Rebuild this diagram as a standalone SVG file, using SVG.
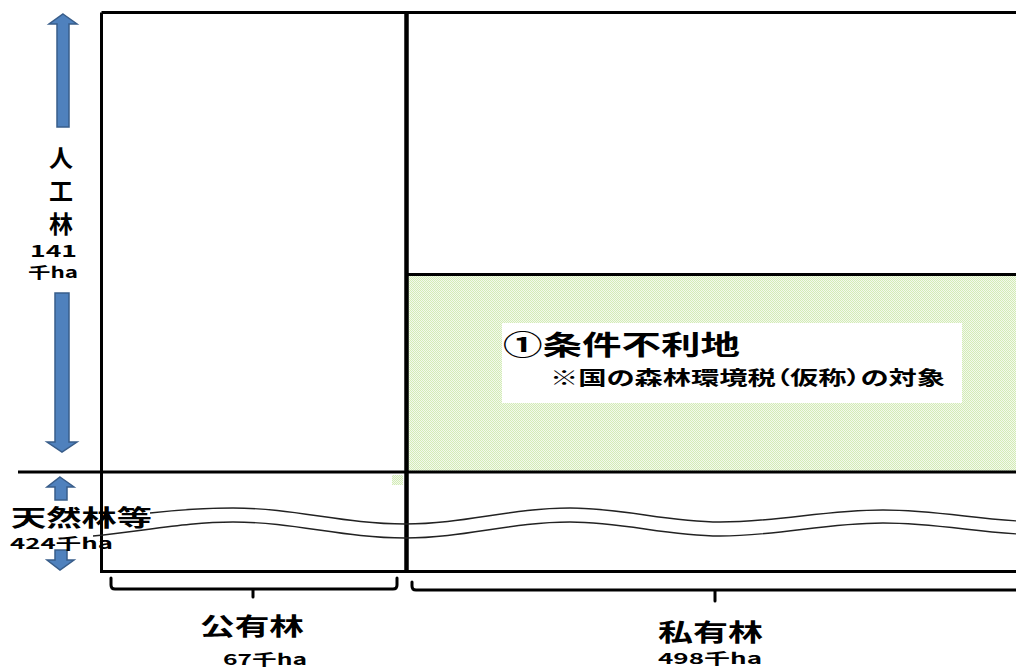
<svg xmlns="http://www.w3.org/2000/svg" width="1016" height="667" viewBox="0 0 1016 667">
<style>
.ln{stroke:#000;stroke-width:3;fill:none}
.thick{stroke:#000;stroke-width:4.5;fill:none}
.wave{stroke:#222;stroke-width:1.4;fill:none}
.br{stroke:#000;stroke-width:3;fill:none;stroke-linecap:round;stroke-linejoin:round}
.arr{fill:#4F81BD;stroke:#385D8A;stroke-width:1.5}
.t{font-family:"Noto Sans CJK JP","Noto Sans",sans-serif;font-weight:bold;fill:#000;font-feature-settings:"palt"}
</style>
<defs>
<pattern id="dots" width="2" height="2" patternUnits="userSpaceOnUse">
<rect width="2" height="2" fill="#F3F9EC"/>
<rect width="1" height="1" fill="#D3ECB6"/>
<rect x="1" y="1" width="1" height="1" fill="#D3ECB6"/>
</pattern>
</defs>
<rect width="1016" height="667" fill="#fff"/>
<g id="green-region">
<rect x="408" y="276" width="610" height="195" fill="url(#dots)"/>
<rect x="392" y="475" width="11" height="10" fill="url(#dots)"/>
</g>
<g id="frame">
<path class="ln" d="M101.5,12.5 H1020 M101.5,12.5 V571.5 H1020 M18,472 H1020 M406,274.5 H1020"/>
<path class="thick" d="M406.5,12 V573"/>
</g>
<g id="waves">
<path class="wave" d="M150,513 C185,509 205,508 233,508 C295,508 343,524 405,524 C465,524 510,508 570,508 C624,508 666,522 720,522 C779,522 824,510 883,510 C942,510 987,522 1046,522"/>
<path class="wave" d="M93,536 C150,530 190,522 233,522 C295,522 343,538 405,538 C465,538 510,522 570,522 C624,522 666,536 720,536 C779,536 824,523 883,523 C942,523 987,535 1046,535"/>
</g>
<g id="connectors">
<path class="arr" d="M63,14 L77,24 L69,24 L69,127 L57,127 L57,24 L49,24 Z"/>
<path class="arr" d="M55,293 L69,293 L69,442 L77,442 L62,452 L47,442 L55,442 Z"/>
<path class="arr" d="M60,477 L74,487 L67,487 L67,500 L55,500 L55,487 L47,487 Z"/>
<path class="arr" d="M55,550 L67,550 L67,560 L74,560 L60,570 L47,560 L55,560 Z"/>
<path class="br" d="M111,578 V585 Q111,589 115,589 H393 Q397,589 397,585 V578 M253,589 V597"/>
<path class="br" d="M412,582 V586 Q412,590 416,590 H1020 M715,590 V601"/>
</g>
<g id="label-box">
<rect x="502" y="323" width="460" height="80" fill="#fff"/>
<text class="t" x="503" y="355" font-size="27" textLength="237" lengthAdjust="spacingAndGlyphs">①条件不利地</text>
<text class="t" x="550" y="385" font-size="19" textLength="395" lengthAdjust="spacingAndGlyphs">※国の森林環境税（仮称）の対象</text>
</g>
<g id="label-plantation">
<text class="t" x="61" y="167" font-size="24" text-anchor="middle">人</text>
<text class="t" x="61" y="200" font-size="24" text-anchor="middle">工</text>
<text class="t" x="61" y="233" font-size="24" text-anchor="middle">林</text>
<text class="t" x="30" y="257" font-size="16" textLength="47" lengthAdjust="spacingAndGlyphs">141</text>
<text class="t" x="28" y="278" font-size="15" textLength="50" lengthAdjust="spacingAndGlyphs">千ha</text>
</g>
<g id="label-natural">
<text class="t" x="11" y="526" font-size="23" textLength="141" lengthAdjust="spacingAndGlyphs">天然林等</text>
<text class="t" x="10" y="549" font-size="15" textLength="103" lengthAdjust="spacingAndGlyphs">424千ha</text>
</g>
<g id="label-public">
<text class="t" x="200" y="635" font-size="24" textLength="104" lengthAdjust="spacingAndGlyphs">公有林</text>
<text class="t" x="223" y="665" font-size="15" textLength="84" lengthAdjust="spacingAndGlyphs">67千ha</text>
</g>
<g id="label-private">
<text class="t" x="658" y="641" font-size="24" textLength="105" lengthAdjust="spacingAndGlyphs">私有林</text>
<text class="t" x="658" y="664" font-size="15" textLength="104" lengthAdjust="spacingAndGlyphs">498千ha</text>
</g>
</svg>
